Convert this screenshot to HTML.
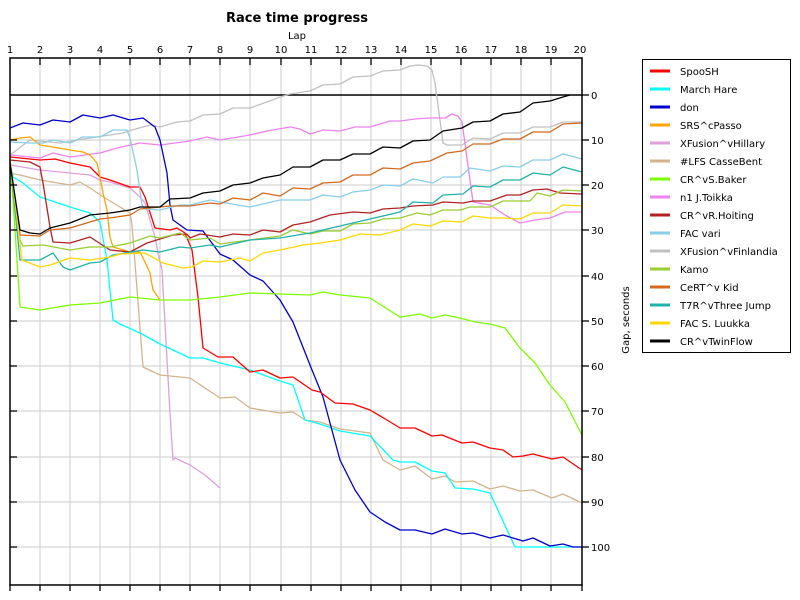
<!DOCTYPE html>
<html><head><meta charset="utf-8"><style>
html,body{margin:0;padding:0;background:#fff;}
svg{display:block;font-family:"DejaVu Sans","Liberation Sans",sans-serif;}
</style></head><body>
<svg width="800" height="600" viewBox="0 0 800 600" xmlns="http://www.w3.org/2000/svg">
<rect width="800" height="600" fill="#fff"/>
<text x="297" y="22" font-size="13" font-weight="bold" text-anchor="middle">Race time progress</text>
<text x="297" y="39" font-size="10" text-anchor="middle">Lap</text>
<g stroke="#cccccc" stroke-width="1">
<line x1="40" y1="58" x2="40" y2="585"/><line x1="70" y1="58" x2="70" y2="585"/><line x1="100" y1="58" x2="100" y2="585"/><line x1="130" y1="58" x2="130" y2="585"/><line x1="160" y1="58" x2="160" y2="585"/><line x1="190" y1="58" x2="190" y2="585"/><line x1="220" y1="58" x2="220" y2="585"/><line x1="250" y1="58" x2="250" y2="585"/><line x1="281" y1="58" x2="281" y2="585"/><line x1="311" y1="58" x2="311" y2="585"/><line x1="341" y1="58" x2="341" y2="585"/><line x1="371" y1="58" x2="371" y2="585"/><line x1="401" y1="58" x2="401" y2="585"/><line x1="431" y1="58" x2="431" y2="585"/><line x1="461" y1="58" x2="461" y2="585"/><line x1="491" y1="58" x2="491" y2="585"/><line x1="521" y1="58" x2="521" y2="585"/><line x1="551" y1="58" x2="551" y2="585"/>
<line x1="10" y1="140" x2="582" y2="140"/><line x1="10" y1="185" x2="582" y2="185"/><line x1="10" y1="230" x2="582" y2="230"/><line x1="10" y1="276" x2="582" y2="276"/><line x1="10" y1="321" x2="582" y2="321"/><line x1="10" y1="366" x2="582" y2="366"/><line x1="10" y1="411" x2="582" y2="411"/><line x1="10" y1="457" x2="582" y2="457"/><line x1="10" y1="502" x2="582" y2="502"/><line x1="10" y1="547" x2="582" y2="547"/>
</g>
<line x1="10" y1="95" x2="582" y2="95" stroke="#000" stroke-width="1.5"/>
<g fill="none" stroke-width="1.3" stroke-linejoin="round">
<polyline stroke="#c0c0c0" points="10,155 30,140 60,143 90,138 123,133 132,130 150,125 160,127 177,122 190,121 203,115 220,114 233,108 250,108 267,102 280,97 290,94 310,91 323,85 340,84 353,77 370,76 383,71 400,70 410,66 418,65 427,66 432,70 435,83 443,143 447,145 462,145 473,138 490,139 503,133 520,133 533,127 550,127 563,122 582,122"/>
<polyline stroke="#ee82ee" points="10,155 40,158 53,153 70,157 100,153 117,148 140,143 160,145 190,141 207,137 220,140 250,135 267,131 290,127 300,129 310,134 323,130 340,131 355,127 370,127 390,121 400,121 415,119 430,118 445,118 452,114 458,116 462,122 473,202 490,205 505,215 520,223 535,220 550,218 565,212 582,212"/>
<polyline stroke="#dda0dd" points="10,165 40,170 70,173 90,175 100,180 110,182 120,185 130,188 140,197 145,203 150,220 155,237 158,253 162,270 170,413 173,460 175,458 190,465 205,475 220,488"/>
<polyline stroke="#d2b48c" points="10,173 20,175 40,180 70,185 80,182 90,188 105,198 120,207 130,213 132,225 135,263 143,367 160,375 190,378 220,398 235,397 250,408 280,413 293,412 305,420 320,422 340,429 370,433 383,460 400,470 415,466 432,479 445,476 455,482 473,481 490,489 503,486 520,491 533,490 552,498 563,494 582,503"/>
<polyline stroke="#00ffff" points="10,163 13,177 23,183 40,197 70,207 90,213 100,222 107,260 113,320 120,324 140,333 160,344 190,358 203,358 220,363 250,370 280,381 293,385 305,420 320,424 340,431 370,436 393,460 400,462 415,462 432,471 445,473 455,488 473,489 490,493 515,547 582,547"/>
<polyline stroke="#0000cd" points="10,128 23,123 40,125 53,120 70,122 83,115 100,118 113,115 130,120 143,118 155,127 160,140 167,173 170,205 173,220 187,230 203,231 220,254 233,260 250,275 263,281 280,300 293,322 310,365 323,397 340,460 355,490 370,512 385,522 400,530 415,530 432,534 445,529 462,534 473,533 490,538 503,535 513,538 523,541 533,538 550,546 563,544 573,547 582,547"/>
<polyline stroke="#ff0000" points="10,157 40,160 55,159 70,163 90,167 100,177 110,180 130,187 140,187 145,197 155,228 170,230 177,228 185,233 192,250 198,297 203,348 218,357 233,357 250,372 263,370 280,378 293,377 312,390 320,392 335,403 353,404 370,410 387,420 400,428 415,428 432,436 442,435 462,443 473,442 490,448 503,450 513,457 523,456 533,454 552,459 563,457 582,470"/>
<polyline stroke="#ffa500" points="10,140 20,138 30,137 40,145 53,147 70,150 83,152 90,155 97,163 100,177 103,193 107,210 110,237 113,247 130,252 140,252 145,262 150,273 153,290 160,300"/>
<polyline stroke="#7cfc00" points="10,158 13,200 17,260 20,307 40,310 70,305 100,303 130,297 160,300 190,300 220,297 250,293 280,294 310,295 323,292 340,295 370,298 400,317 420,314 432,318 445,315 460,318 475,322 490,324 505,328 520,348 535,363 550,385 565,402 582,435"/>
<polyline stroke="#b22222" points="10,160 30,162 40,167 43,183 50,227 53,242 70,243 90,237 110,250 130,252 147,243 173,235 187,234 190,238 200,234 220,237 233,234 250,235 263,230 280,232 293,225 310,222 330,215 353,212 370,213 383,209 400,208 413,206 433,205 443,202 463,203 473,201 490,201 507,195 520,195 533,190 547,189 560,193 582,194"/>
<polyline stroke="#9acd32" points="10,162 20,240 23,246 43,245 70,250 90,247 110,247 130,243 150,236 160,238 180,233 190,240 210,238 220,244 250,240 280,236 293,230 310,234 323,231 340,231 353,224 370,223 383,219 400,218 417,213 430,215 443,210 460,210 470,207 490,207 503,201 530,201 537,193 550,196 563,190 582,191"/>
<polyline stroke="#87ceeb" points="10,142 30,143 43,143 53,140 70,143 83,137 100,137 113,130 127,130 130,138 137,170 142,205 145,209 160,210 180,205 190,205 210,200 220,202 250,207 280,200 310,200 323,195 340,197 353,192 370,190 383,185 400,186 413,179 433,183 443,177 460,177 470,168 490,171 503,166 520,167 533,160 550,160 563,154 582,159"/>
<polyline stroke="#d2691e" points="10,160 20,235 40,236 50,230 70,228 90,222 100,219 110,218 130,215 140,209 160,207 170,206 190,206 210,203 220,204 233,198 250,200 263,193 280,196 293,188 310,189 323,183 340,182 353,175 370,175 383,168 400,169 413,163 430,161 447,153 462,151 473,144 490,144 503,139 520,139 533,132 550,132 563,124 582,123"/>
<polyline stroke="#20b2aa" points="10,160 20,260 40,260 53,253 63,267 70,270 90,263 100,262 113,255 143,250 160,252 180,247 190,248 210,245 220,247 250,240 280,238 310,233 340,226 370,219 400,212 413,202 433,203 443,195 463,194 473,186 490,187 503,180 520,180 533,173 550,175 563,167 582,172"/>
<polyline stroke="#ffd700" points="10,160 22,260 40,267 50,265 70,258 90,260 110,257 120,254 145,253 163,263 183,268 192,267 203,261 220,262 240,258 250,261 263,253 280,250 303,245 320,243 340,240 360,234 380,235 400,230 413,224 430,226 443,221 462,222 473,216 490,218 503,218 520,219 533,213 550,213 563,205 582,206"/>
<polyline stroke="#000000" points="10,163 20,230 30,233 40,234 50,228 70,223 90,215 100,214 110,213 130,210 140,207 160,207 170,199 190,198 203,193 220,191 233,185 250,183 263,178 280,175 293,167 310,167 323,160 340,160 353,154 370,154 383,147 400,148 413,141 430,140 443,131 462,128 473,122 490,121 503,114 520,112 533,103 550,101 563,97 570,95"/>
</g>
<rect x="10" y="58" width="572" height="527" fill="none" stroke="#000" stroke-width="1.5"/>
<g stroke="#000" stroke-width="1.3">
<line x1="40" y1="58" x2="40" y2="65"/><line x1="70" y1="58" x2="70" y2="65"/><line x1="100" y1="58" x2="100" y2="65"/><line x1="130" y1="58" x2="130" y2="65"/><line x1="160" y1="58" x2="160" y2="65"/><line x1="190" y1="58" x2="190" y2="65"/><line x1="220" y1="58" x2="220" y2="65"/><line x1="250" y1="58" x2="250" y2="65"/><line x1="281" y1="58" x2="281" y2="65"/><line x1="311" y1="58" x2="311" y2="65"/><line x1="341" y1="58" x2="341" y2="65"/><line x1="371" y1="58" x2="371" y2="65"/><line x1="401" y1="58" x2="401" y2="65"/><line x1="431" y1="58" x2="431" y2="65"/><line x1="461" y1="58" x2="461" y2="65"/><line x1="491" y1="58" x2="491" y2="65"/><line x1="521" y1="58" x2="521" y2="65"/><line x1="551" y1="58" x2="551" y2="65"/>
<line x1="10" y1="585" x2="10" y2="591"/><line x1="40" y1="585" x2="40" y2="591"/><line x1="70" y1="585" x2="70" y2="591"/><line x1="100" y1="585" x2="100" y2="591"/><line x1="130" y1="585" x2="130" y2="591"/><line x1="160" y1="585" x2="160" y2="591"/><line x1="190" y1="585" x2="190" y2="591"/><line x1="220" y1="585" x2="220" y2="591"/><line x1="250" y1="585" x2="250" y2="591"/><line x1="281" y1="585" x2="281" y2="591"/><line x1="311" y1="585" x2="311" y2="591"/><line x1="341" y1="585" x2="341" y2="591"/><line x1="371" y1="585" x2="371" y2="591"/><line x1="401" y1="585" x2="401" y2="591"/><line x1="431" y1="585" x2="431" y2="591"/><line x1="461" y1="585" x2="461" y2="591"/><line x1="491" y1="585" x2="491" y2="591"/><line x1="521" y1="585" x2="521" y2="591"/><line x1="551" y1="585" x2="551" y2="591"/><line x1="582" y1="585" x2="582" y2="591"/>
<line x1="10" y1="140" x2="17" y2="140"/><line x1="10" y1="185" x2="17" y2="185"/><line x1="10" y1="230" x2="17" y2="230"/><line x1="10" y1="276" x2="17" y2="276"/><line x1="10" y1="321" x2="17" y2="321"/><line x1="10" y1="366" x2="17" y2="366"/><line x1="10" y1="411" x2="17" y2="411"/><line x1="10" y1="457" x2="17" y2="457"/><line x1="10" y1="502" x2="17" y2="502"/><line x1="10" y1="547" x2="17" y2="547"/>
<line x1="582" y1="95" x2="589" y2="95"/><line x1="582" y1="140" x2="589" y2="140"/><line x1="582" y1="185" x2="589" y2="185"/><line x1="582" y1="230" x2="589" y2="230"/><line x1="582" y1="276" x2="589" y2="276"/><line x1="582" y1="321" x2="589" y2="321"/><line x1="582" y1="366" x2="589" y2="366"/><line x1="582" y1="411" x2="589" y2="411"/><line x1="582" y1="457" x2="589" y2="457"/><line x1="582" y1="502" x2="589" y2="502"/><line x1="582" y1="547" x2="589" y2="547"/>
</g>
<g font-size="10" text-anchor="middle">
<text x="10" y="53">1</text><text x="40" y="53">2</text><text x="70" y="53">3</text><text x="100" y="53">4</text><text x="130" y="53">5</text><text x="160" y="53">6</text><text x="190" y="53">7</text><text x="220" y="53">8</text><text x="250" y="53">9</text><text x="281" y="53">10</text><text x="311" y="53">11</text><text x="341" y="53">12</text><text x="371" y="53">13</text><text x="401" y="53">14</text><text x="431" y="53">15</text><text x="461" y="53">16</text><text x="491" y="53">17</text><text x="521" y="53">18</text><text x="551" y="53">19</text><text x="580" y="53">20</text>
</g>
<g font-size="10">
<text x="591" y="99">0</text><text x="591" y="144">10</text><text x="591" y="189">20</text><text x="591" y="234">30</text><text x="591" y="280">40</text><text x="591" y="325">50</text><text x="591" y="370">60</text><text x="591" y="415">70</text><text x="591" y="461">80</text><text x="591" y="506">90</text><text x="591" y="551">100</text>
</g>
<text x="0" y="0" font-size="10" text-anchor="middle" transform="translate(629,320) rotate(-90)">Gap, seconds</text>
<rect x="642.5" y="59.5" width="148" height="293" fill="#fff" stroke="#000" stroke-width="1"/>
<g stroke-width="3">
<line x1="650" y1="71" x2="670" y2="71" stroke="#ff0000"/>
<line x1="650" y1="89" x2="670" y2="89" stroke="#00ffff"/>
<line x1="650" y1="107" x2="670" y2="107" stroke="#0000cd"/>
<line x1="650" y1="125" x2="670" y2="125" stroke="#ffa500"/>
<line x1="650" y1="143" x2="670" y2="143" stroke="#dda0dd"/>
<line x1="650" y1="161" x2="670" y2="161" stroke="#d2b48c"/>
<line x1="650" y1="179" x2="670" y2="179" stroke="#7cfc00"/>
<line x1="650" y1="197" x2="670" y2="197" stroke="#ee82ee"/>
<line x1="650" y1="215" x2="670" y2="215" stroke="#b22222"/>
<line x1="650" y1="233" x2="670" y2="233" stroke="#87ceeb"/>
<line x1="650" y1="251" x2="670" y2="251" stroke="#c0c0c0"/>
<line x1="650" y1="269" x2="670" y2="269" stroke="#9acd32"/>
<line x1="650" y1="287" x2="670" y2="287" stroke="#d2691e"/>
<line x1="650" y1="305" x2="670" y2="305" stroke="#20b2aa"/>
<line x1="650" y1="323" x2="670" y2="323" stroke="#ffd700"/>
<line x1="650" y1="341" x2="670" y2="341" stroke="#000000"/>
</g>
<g font-size="10">
<text x="680" y="75">SpooSH</text>
<text x="680" y="93">March Hare</text>
<text x="680" y="111">don</text>
<text x="680" y="129">SRS^cPasso</text>
<text x="680" y="147">XFusion^vHillary</text>
<text x="680" y="165">#LFS CasseBent</text>
<text x="680" y="183">CR^vS.Baker</text>
<text x="680" y="201">n1 J.Toikka</text>
<text x="680" y="219">CR^vR.Hoiting</text>
<text x="680" y="237">FAC vari</text>
<text x="680" y="255">XFusion^vFinlandia</text>
<text x="680" y="273">Kamo</text>
<text x="680" y="291">CeRT^v Kid</text>
<text x="680" y="309">T7R^vThree Jump</text>
<text x="680" y="327">FAC S. Luukka</text>
<text x="680" y="345">CR^vTwinFlow</text>
</g>
</svg>
</body></html>
